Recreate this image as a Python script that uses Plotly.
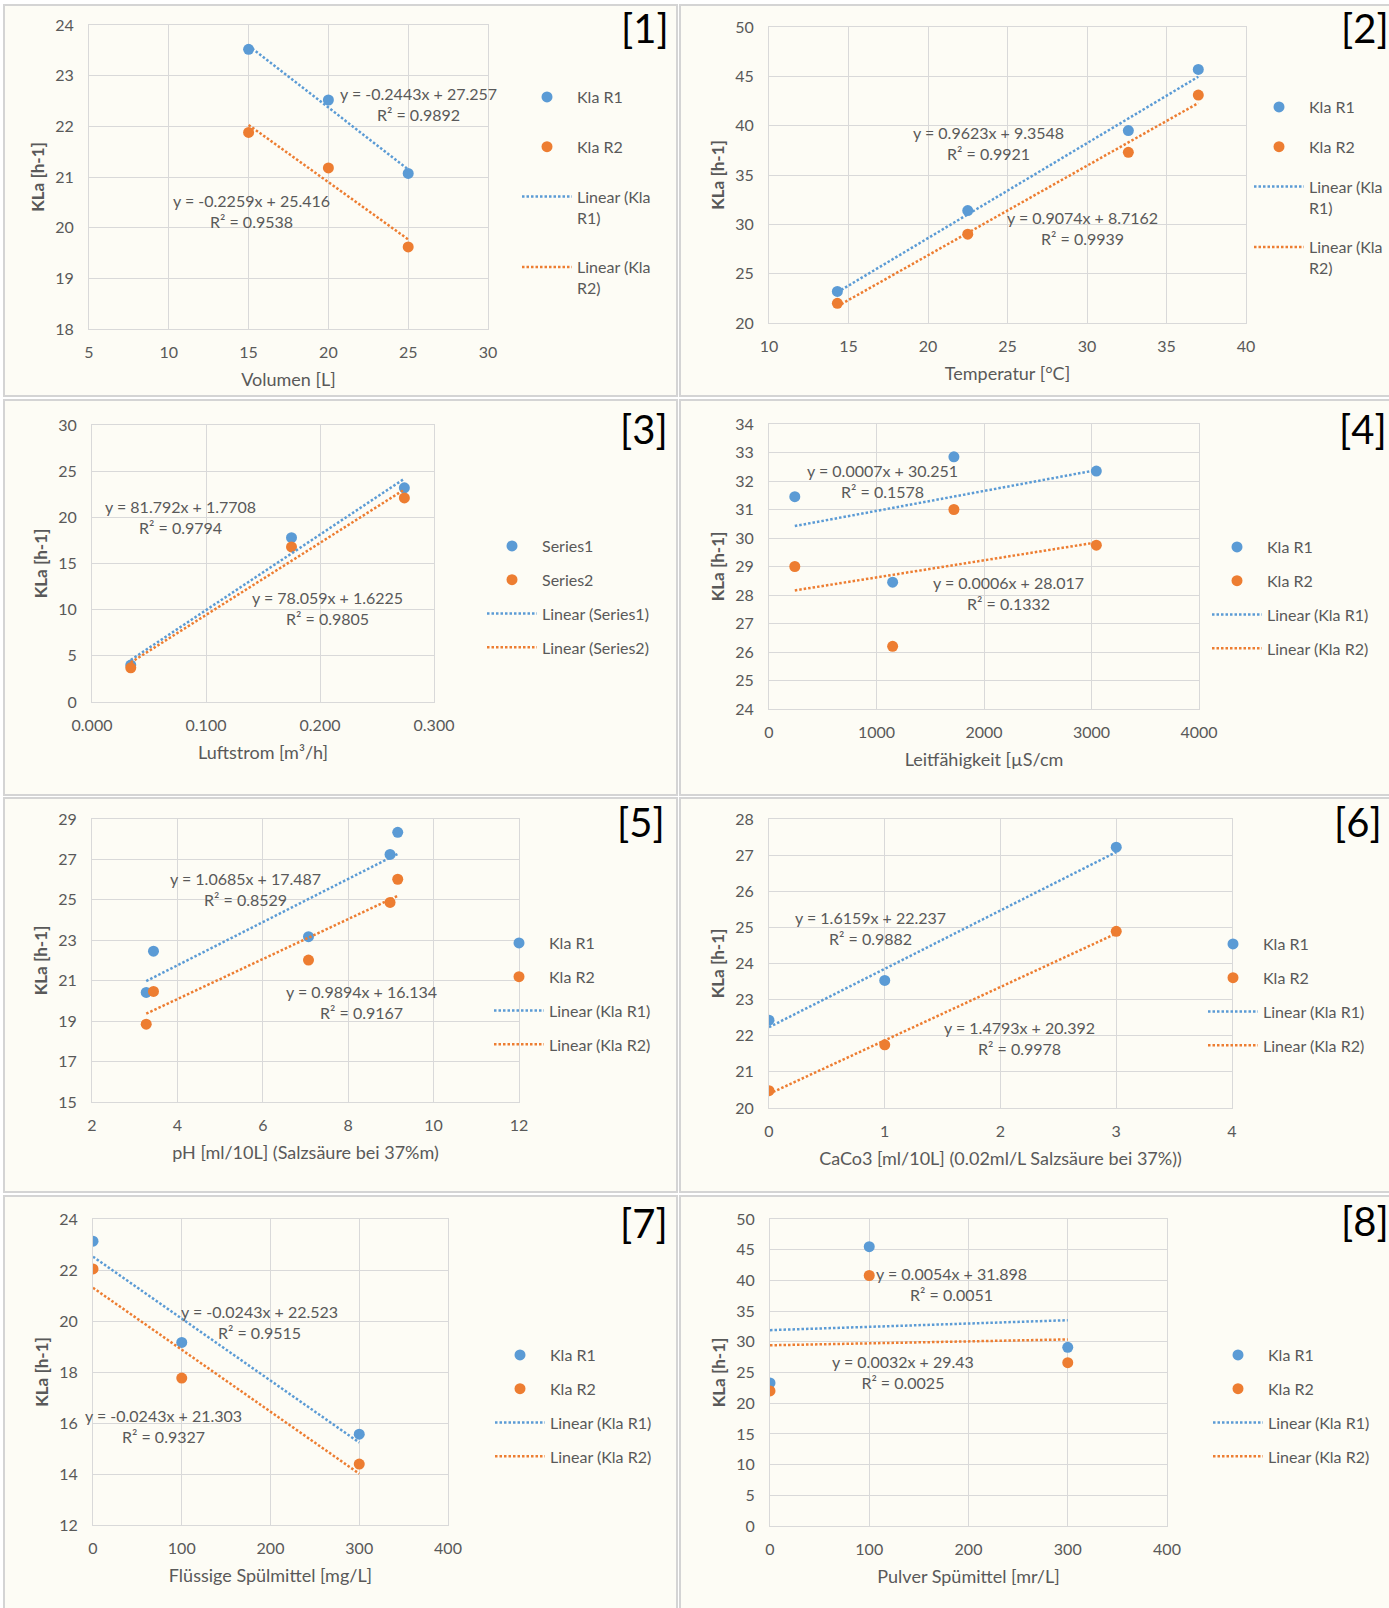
import plotly.graph_objects as go

W, H = 1389, 1608
BLUE = "#5B9BD5"
ORANGE = "#ED7D31"
TEXT = "#595959"
GRID = "#D9D9D9"
PANEL_BG = "#FDFCF5"
FONT = "Lato, Carlito, Calibri, 'Open Sans', sans-serif"

# ---------------- data ----------------
# [1] Volumen
vol_x = [15, 20, 25]
vol_r1 = [23.52, 22.52, 21.07]
vol_r2 = [21.88, 21.18, 19.62]
vol_fit = [(-0.2443, 27.257, 0.9892), (-0.2259, 25.416, 0.9538)]

# [2] Temperatur
temp_x = [14.3, 22.5, 32.6, 37.0]
temp_r1 = [23.2, 31.4, 39.5, 45.7]
temp_r2 = [22.0, 29.0, 37.3, 43.1]
temp_fit = [(0.9623, 9.3548, 0.9921), (0.9074, 8.7162, 0.9939)]

# [3] Luftstrom
air_x = [0.034, 0.175, 0.274]
air_s1 = [4.0, 17.8, 23.2]
air_s2 = [3.7, 16.8, 22.1]
air_fit = [(81.792, 1.7708, 0.9794), (78.059, 1.6225, 0.9805)]

# [4] Leitfähigkeit
cond_x = [240, 1150, 1720, 3045]
cond_r1 = [31.45, 28.45, 32.85, 32.35]
cond_r2 = [29.0, 26.2, 31.0, 29.75]
cond_fit = [(0.0007, 30.251, 0.1578), (0.0006, 28.017, 0.1332)]

# [5] pH
ph_x = [3.27, 3.44, 7.07, 8.98, 9.16]
ph_r1 = [20.42, 22.46, 23.18, 27.25, 28.34]
ph_r2 = [18.85, 20.47, 22.02, 24.87, 26.02]
ph_fit = [(1.0685, 17.487, 0.8529), (0.9894, 16.134, 0.9167)]

# [6] CaCo3
caco_x = [0, 1, 3]
caco_r1 = [22.43, 23.53, 27.22]
caco_r2 = [20.48, 21.75, 24.89]
caco_fit = [(1.6159, 22.237, 0.9882), (1.4793, 20.392, 0.9978)]

# [7] Flüssige Spülmittel
liq_x = [0, 100, 300]
liq_r1 = [23.13, 19.16, 15.56]
liq_r2 = [22.04, 17.76, 14.39]
liq_fit = [(-0.0243, 22.523, 0.9515), (-0.0243, 21.303, 0.9327)]

# [8] Pulver Spülmittel
pow_x = [0, 100, 300]
pow_r1 = [23.3, 45.5, 29.1]
pow_r2 = [22.0, 40.8, 26.6]
pow_fit = [(0.0054, 31.898, 0.0051), (0.0032, 29.43, 0.0025)]

kla_names = ["Kla R1", "Kla R2"]
series_names = ["Series1", "Series2"]

panels = [
    dict(tag="[1]", x=vol_x, ys=[vol_r1, vol_r2], fit=vol_fit, names=kla_names,
         xtitle="Volumen [L]", xr=[5, 30], xd=5, yr=[18, 24], yd=1, wrap=True),
    dict(tag="[2]", x=temp_x, ys=[temp_r1, temp_r2], fit=temp_fit, names=kla_names,
         xtitle="Temperatur [°C]", xr=[10, 40], xd=5, yr=[20, 50], yd=5, wrap=True),
    dict(tag="[3]", x=air_x, ys=[air_s1, air_s2], fit=air_fit, names=series_names,
         xtitle="Luftstrom [m³/h]", xr=[0, 0.3], xd=0.1, yr=[0, 30], yd=5, xfmt=".3f"),
    dict(tag="[4]", x=cond_x, ys=[cond_r1, cond_r2], fit=cond_fit, names=kla_names,
         xtitle="Leitfähigkeit [µS/cm", xr=[0, 4000], xd=1000, yr=[24, 34], yd=1),
    dict(tag="[5]", x=ph_x, ys=[ph_r1, ph_r2], fit=ph_fit, names=kla_names,
         xtitle="pH [ml/10L] (Salzsäure bei 37%m)", xr=[2, 12], xd=2, yr=[15, 29], yd=2),
    dict(tag="[6]", x=caco_x, ys=[caco_r1, caco_r2], fit=caco_fit, names=kla_names,
         xtitle="CaCo3 [ml/10L] (0.02ml/L Salzsäure bei 37%))", xr=[0, 4], xd=1, yr=[20, 28], yd=1),
    dict(tag="[7]", x=liq_x, ys=[liq_r1, liq_r2], fit=liq_fit, names=kla_names,
         xtitle="Flüssige Spülmittel [mg/L]", xr=[0, 400], xd=100, yr=[12, 24], yd=2),
    dict(tag="[8]", x=pow_x, ys=[pow_r1, pow_r2], fit=pow_fit, names=kla_names,
         xtitle="Pulver Spümittel [mr/L]", xr=[0, 400], xd=100, yr=[0, 50], yd=5),
]

# ---------------- layout geometry (pixels) ----------------
# outer frame of each chart: (left, top, right, bottom)
frames = [(4, 5, 677, 396), (680, 5, 1395, 396),
          (4, 400, 677, 795), (680, 400, 1395, 795),
          (4, 798, 677, 1192), (680, 798, 1395, 1192),
          (4, 1196, 677, 1612), (680, 1196, 1395, 1612)]
# plot area: (left, right, top, bottom)
plot_boxes = [(89, 488, 25, 329), (769, 1246, 27, 323),
              (92, 434, 425, 702), (769, 1199, 424, 709),
              (92, 519, 819, 1102), (769, 1232, 819, 1108),
              (93, 448, 1219, 1525), (770, 1167, 1219, 1526)]
# equation label centres: [(x, y) for fit 1, (x, y) for fit 2]
eq_pos = [[(418, 104), (251, 211)], [(988, 143), (1082, 228)],
          [(180, 517), (327, 608)], [(882, 481), (1008, 593)],
          [(245, 889), (361, 1002)], [(870, 928), (1019, 1038)],
          [(259, 1322), (163, 1426)], [(951, 1284), (903, 1372)]]
# legend: (left, top, group gap)
legend_pos = [(517, 80, 26), (1249, 90, 16), (482, 529, 10), (1207, 530, 10),
              (489, 926, 10), (1203, 927, 10), (490, 1338, 10), (1208, 1338, 10)]
# panel number label centres
tag_pos = [(645, 28), (1365, 28), (644, 429), (1363, 429),
           (641, 822), (1358, 822), (644, 1223), (1365, 1221)]


def px(x):
    return x / W


def py(y):
    return 1 - y / H


fig = go.Figure()
layout = dict(
    width=W, height=H, autosize=False,
    margin=dict(l=0, r=0, t=0, b=0, autoexpand=False),
    paper_bgcolor="white", plot_bgcolor=PANEL_BG,
    font=dict(family=FONT, size=16, color=TEXT),
    shapes=[], annotations=[],
)

for i, p in enumerate(panels, start=1):
    sfx = "" if i == 1 else str(i)
    xa, ya, lg = "x" + sfx, "y" + sfx, "legend" + sfx
    colors = [BLUE, ORANGE]

    for k in range(2):
        fig.add_trace(go.Scatter(
            x=p["x"], y=p["ys"][k], mode="markers", name=p["names"][k],
            marker=dict(color=colors[k], size=11),
            xaxis=xa, yaxis=ya, legend=lg, legendgroup=f"p{i}s{k}",
        ))
    for k in range(2):
        slope, icpt, _ = p["fit"][k]
        xs = [min(p["x"]), max(p["x"])]
        lname = p["names"][k].replace("Kla ", "Kla<br>") if p.get("wrap") else p["names"][k]
        fig.add_trace(go.Scatter(
            x=xs, y=[slope * v + icpt for v in xs], mode="lines",
            name=f"Linear ({lname})",
            line=dict(color=colors[k], width=2.5, dash="2.5px,2px"),
            xaxis=xa, yaxis=ya, legend=lg, legendgroup=f"p{i}t{k}",
        ))

    l, r, t, b = plot_boxes[i - 1]
    axis_common = dict(showgrid=True, gridcolor=GRID, gridwidth=1, zeroline=False,
                       showline=True, mirror=True, linecolor=GRID, linewidth=1,
                       ticks="", automargin=False,
                       tickfont=dict(size=16, color=TEXT, family=FONT))
    layout["xaxis" + sfx] = dict(
        axis_common, domain=[px(l), px(r)], range=p["xr"], dtick=p["xd"], tick0=p["xr"][0],
        anchor=ya, tickformat=p.get("xfmt", ""), ticklabelstandoff=9,
        title=dict(text=p["xtitle"], standoff=13, font=dict(size=18, color=TEXT, family=FONT)),
    )
    layout["yaxis" + sfx] = dict(
        axis_common, domain=[py(b), py(t)], range=p["yr"], dtick=p["yd"], tick0=p["yr"][0],
        anchor=xa, ticklabelstandoff=11,
        title=dict(text="<b>KLa [h-1]</b>", standoff=6, font=dict(size=17, color=TEXT, family=FONT)),
    )

    lx, ly, gap = legend_pos[i - 1]
    layout[lg] = dict(x=px(lx), y=py(ly), xanchor="left", yanchor="top",
                      bgcolor="rgba(0,0,0,0)", tracegroupgap=gap, valign="top",
                      itemwidth=50, font=dict(size=16, color=TEXT, family=FONT))

    fl, ft, fr, fb = frames[i - 1]
    layout["shapes"].append(dict(type="rect", xref="paper", yref="paper",
                                 x0=px(fl), x1=px(fr), y0=py(fb), y1=py(ft),
                                 fillcolor=PANEL_BG, line=dict(color="#D4D4D4", width=2),
                                 layer="below"))

    for k in range(2):
        slope, icpt, r2 = p["fit"][k]
        ex, ey = eq_pos[i - 1][k]
        layout["annotations"].append(dict(
            xref="paper", yref="paper", x=px(ex), y=py(ey), xanchor="center", yanchor="middle",
            text=f"y = {slope:g}x + {icpt:g}<br>R² = {r2:.4f}", showarrow=False, align="center",
            font=dict(size=16, color=TEXT, family=FONT),
        ))

    tx, ty = tag_pos[i - 1]
    layout["annotations"].append(dict(
        xref="paper", yref="paper", x=px(tx), y=py(ty), xanchor="center", yanchor="middle",
        text=p["tag"], showarrow=False, font=dict(size=40, color="black", family=FONT),
    ))

fig.update_layout(**layout)
fig.write_html("out.html")
